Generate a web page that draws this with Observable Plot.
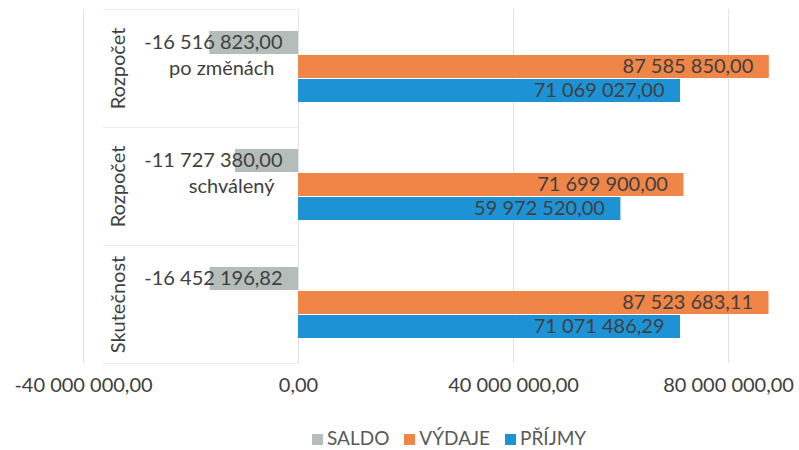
<!DOCTYPE html>
<html><head><meta charset="utf-8">
<script src="https://cdn.jsdelivr.net/npm/d3@7"></script>
<script src="https://cdn.jsdelivr.net/npm/@observablehq/plot@0.6"></script>
<style>
html,body{margin:0;padding:0;background:#fff;}
body{width:799px;height:450px;overflow:hidden;font-family:Lato,sans-serif;}
#chart svg{overflow:visible;display:block;}
#legend{display:flex;padding-left:312px;padding-top:16px;font-size:19px;line-height:24px;color:#595959;font-family:Lato,sans-serif;}
.item{display:flex;align-items:flex-end;margin-right:15px;}
.sw{width:11px;height:11px;margin-right:4px;margin-bottom:5px;}
</style></head><body><div id="chart"></div><div id="legend"></div>
<script>
// Groups, top to bottom as drawn
const groups = ["Rozpočet po změnách", "Rozpočet schválený", "Skutečnost"];
const series = ["SALDO", "VÝDAJE", "PŘÍJMY"];
const colors = ["#b4bdba", "#f08548", "#1d93d6"];
// values per group (same order as groups)
const saldo  = [-16516823.00, -11727380.00, -16452196.82];
const vydaje = [87585850.00, 71699900.00, 87523683.11];
const prijmy = [71069027.00, 59972520.00, 71071486.29];
const xTicks = [-40000000, 0, 40000000, 80000000];

const locale = d3.formatLocale({decimal: ",", thousands: "\u00a0", grouping: [3], currency: ["", ""], minus: "-"});
const fmt = locale.format(",.2f");

const rows = [];
groups.forEach((g, i) => {
  rows.push({group: g, series: "SALDO", value: saldo[i]});
  rows.push({group: g, series: "VÝDAJE", value: vydaje[i]});
  rows.push({group: g, series: "PŘÍJMY", value: prijmy[i]});
});
const labels = groups.map(g => {
  const k = g.indexOf(" ");
  return {group: g, first: k < 0 ? g : g.slice(0, k), second: k < 0 ? "" : g.slice(k + 1)};
});

const W = 799, ML = 83, MR = 0;
const xDomain = [-40000000, 93200000];
const xs = Plot.scale({x: {domain: xDomain, range: [ML, W - MR]}});
const sepInsetRight = W - xs.apply(0);

const chart = Plot.plot({
  width: W,
  height: 410,
  marginLeft: ML,
  marginRight: MR,
  marginTop: 8,
  marginBottom: 47,
  style: {fontFamily: "Lato, sans-serif", fontSize: "20px", color: "#404040", background: "#fff"},
  x: {domain: xDomain, ticks: xTicks, tickFormat: fmt, tickSize: 0, tickPadding: 14, label: null},
  y: {domain: series, paddingInner: 0.04, paddingOuter: 0.955, align: 0.47, axis: null},
  fy: {domain: groups, padding: 0, axis: null},
  color: {domain: series, range: colors},
  marks: [
    Plot.ruleX(xTicks, {stroke: "#e2e2e2", strokeWidth: 1}),
    Plot.frame({anchor: "bottom", stroke: "#ececec", insetLeft: 20, insetRight: sepInsetRight}),
    Plot.frame({anchor: "top", stroke: "#ececec", insetLeft: 20, insetRight: sepInsetRight}),
    Plot.barX(rows, {x: "value", y: "series", fy: "group", fill: "series"}),
    Plot.text(rows, {x: d => Math.max(0, d.value), y: "series", fy: "group", text: d => fmt(d.value),
      textAnchor: "end", dx: -16, fill: "#404040", fontSize: 20}),
    Plot.text(labels, {fy: "group", text: "first", frameAnchor: "left", textAnchor: "middle", dx: 35, rotate: -90, fill: "#404040", fontSize: 20}),
    Plot.text(labels, {fy: "group", x: 0, text: "second", textAnchor: "end", dx: -24, fill: "#404040", fontSize: 20})
  ]
});
document.getElementById("chart").appendChild(chart);

const legend = document.getElementById("legend");
series.forEach((s, i) => {
  const it = document.createElement("div"); it.className = "item";
  const sw = document.createElement("span"); sw.className = "sw"; sw.style.background = colors[i];
  const tx = document.createElement("span"); tx.textContent = s;
  it.appendChild(sw); it.appendChild(tx); legend.appendChild(it);
});
</script></body></html>
